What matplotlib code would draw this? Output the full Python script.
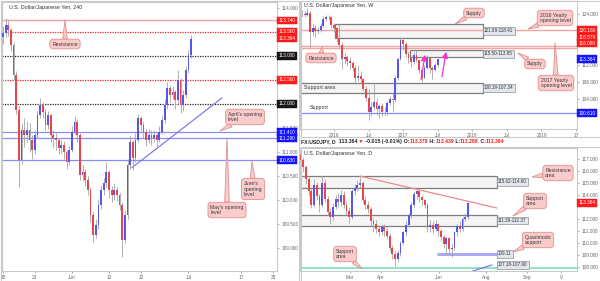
import numpy as np
import matplotlib.pyplot as plt
from matplotlib.patches import Rectangle

plt.rcParams['font.family'] = ['Liberation Sans', 'DejaVu Sans']

W, H = 600, 281
BULL = '#5656ee'
BEAR = '#e8464b'
WICK = '#a3a3a3'
RED = '#ff1a1a'
BLUE = '#1414ff'
BLACK = '#151515'
PINK = '#f9cbcb'
PINK_EDGE = '#e38e8e'
GRID = '#c9c9c9'

# ---- 240 chart: two bars per trading day, 15 May -> 3 Jul
h4_open0 = 113.40
h4_close = [113.48, 113.65, 113.54, 113.23, 112.60, 111.88, 110.83, 111.46, 111.35, 111.46,
            111.25, 111.04, 111.35, 111.77, 111.98, 111.83, 111.56, 111.77, 111.35, 111.29,
            111.25, 111.08, 111.15, 111.00, 110.79, 111.04, 111.42, 111.63, 111.35, 110.52,
            110.58, 110.42, 110.21, 109.69, 109.27, 109.48, 109.90, 110.21, 110.35, 110.58,
            110.21, 110.10, 110.21, 110.10, 109.90, 109.17, 109.69, 110.73, 111.21, 110.88,
            111.25, 111.71, 111.56, 111.42, 111.25, 111.35, 111.29, 111.35, 111.25, 111.42,
            111.67, 111.98, 112.33, 112.19, 112.25, 112.08, 112.50, 111.98, 112.19, 112.71,
            113.02, 113.36]
h4_high = [113.62, 113.80, 113.74, 113.60, 113.30, 112.68, 111.95, 111.60, 111.70, 111.65,
           111.60, 111.35, 111.45, 111.85, 112.12, 112.05, 111.90, 111.85, 111.80, 111.45,
           111.40, 111.30, 111.25, 111.22, 111.05, 111.12, 111.55, 111.75, 111.68, 111.40,
           110.72, 110.65, 110.50, 110.28, 109.75, 109.60, 110.02, 110.32, 110.45, 110.80,
           110.62, 110.30, 110.35, 110.28, 110.15, 109.95, 109.80, 110.85, 111.35, 111.25,
           111.40, 111.80, 111.75, 111.62, 111.48, 111.48, 111.45, 111.46, 111.40, 111.55,
           111.78, 112.10, 112.45, 112.40, 112.38, 112.30, 112.70, 112.55, 112.30, 112.80,
           113.12, 113.44]
h4_low = [113.25, 113.40, 113.42, 113.10, 112.50, 111.80, 110.27, 110.75, 111.10, 111.20,
          111.00, 110.85, 110.95, 111.30, 111.70, 111.70, 111.45, 111.48, 111.20, 111.10,
          111.05, 110.95, 110.98, 110.85, 110.65, 110.72, 111.00, 111.38, 111.20, 110.42,
          110.40, 110.30, 110.10, 109.55, 109.12, 109.20, 109.40, 109.82, 110.10, 110.28,
          110.05, 109.95, 110.00, 109.98, 109.80, 108.82, 109.10, 109.60, 110.65, 110.62,
          110.80, 111.20, 111.40, 111.30, 111.12, 111.18, 111.15, 111.20, 111.12, 111.20,
          111.38, 111.60, 111.90, 112.05, 112.10, 111.90, 112.00, 111.82, 111.85, 112.12,
          112.65, 112.95]
h4_tick_days = [0, 6, 13, 20, 26, 35, 45, 51]
h4_tick_labels = ['15', '23', 'Jun', '12', '20', 'Jul', '17', '25']
h4_price_ticks = [109.0, 109.5, 110.0, 110.5, 111.0, 111.5, 114.0]
h4_resistance = 113.740
h4_red_dotted = [113.5, 112.5]
h4_black_dotted = [113.0, 112.0]
h4_blue_levels = [111.41, 111.29, 110.83]
h4_trend_x = [24.3, 41.3]
h4_trend_y = [110.67, 112.125]
h4_tags = [(113.740, RED), (113.500, RED), (113.364, RED), (113.000, BLACK),
           (112.500, RED), (112.000, BLACK), (111.410, BLUE), (111.290, BLUE), (110.830, BLUE)]

# ---- weekly chart: one bar per two weeks, mid 2015 -> Jul 2017
w_open0 = 123.6
w_close = [123.9, 124.1, 123.8, 124.3, 119.8, 120.6, 119.9, 120.3, 121.2, 122.8,
           123.3, 123.4, 121.4, 120.6, 118.3, 116.8, 113.3, 113.9, 112.9, 112.5,
           111.3, 108.9, 109.5, 108.6, 106.4, 104.2, 100.9, 102.0, 103.2, 101.6,
           102.4, 101.0, 100.9, 103.1, 104.1, 103.8, 108.9, 113.4, 117.9, 117.0,
           114.7, 113.6, 112.8, 114.3, 113.2, 110.8, 109.0, 111.4, 113.6, 111.3,
           110.9, 112.0, 113.36]
w_high = [124.6, 125.0, 124.6, 125.3, 124.6, 121.7, 121.3, 121.0, 121.8, 123.5,
          123.8, 123.7, 123.6, 122.0, 121.0, 121.7, 117.5, 114.9, 114.4, 113.8,
          112.9, 111.9, 111.9, 110.6, 109.0, 107.1, 106.3, 103.2, 107.5, 104.3,
          102.9, 103.1, 102.0, 103.6, 104.7, 105.5, 109.3, 113.9, 118.6, 118.2,
          117.5, 115.4, 114.2, 115.0, 115.5, 113.5, 111.5, 111.9, 114.4, 113.8,
          111.8, 112.4, 113.5]
w_low = [123.0, 123.3, 123.2, 123.5, 116.2, 118.8, 118.6, 119.2, 119.8, 120.9,
         122.3, 122.6, 120.7, 119.8, 117.3, 115.9, 111.0, 112.2, 111.7, 111.0,
         110.6, 107.6, 108.2, 107.7, 105.8, 103.5, 99.0, 99.9, 101.4, 100.2,
         99.6, 100.1, 100.0, 100.3, 102.6, 101.2, 103.2, 108.5, 113.1, 115.6,
         113.8, 112.5, 111.6, 112.2, 112.7, 110.1, 108.1, 108.9, 111.0, 110.2,
         108.8, 110.6, 111.6]
w_tick_pos = [0, 13, 26, 39, 52, 65, 78, 91]
w_tick_labels = ['2016', 'Jul', '2017', 'Jul', '2018', 'Jul', '2019', '17']
w_price_ticks = [104, 108, 112, 124]
w_zones = [(0.4, 56, 118.41, 121.68, '121.68-118.41'),
           (28.6, 56, 113.85, 115.50, '115.50-113.85'),
           (-13, 56, 105.5, 107.8, '108.19-107.34')]
w_red_levels = [120.18, 116.579, 116.08]
w_support = 100.61
w_tags = [(120.18, '120.180', RED), (118.4, '116.579', RED), (117.1, '116.080', RED),
          (113.364, '113.364', BLUE), (100.61, '100.610', BLUE)]
w_arrows = [((32.7, 108.5), (34.2, 114.4)), ((40.6, 109.2), (42.1, 115.1))]

# ---- daily chart: one bar per two days, Jan -> 3 Jul 2017
d_open0 = 117.3
d_close = [116.9, 116.3, 115.3, 114.3, 113.2, 114.8, 113.9, 113.2, 115.0, 113.7,
           112.6, 112.2, 113.0, 113.7, 113.4, 114.0, 113.2, 112.7, 112.2, 114.3,
           114.6, 114.8, 115.0, 113.6, 113.2, 112.8, 111.8, 111.6, 111.2, 110.9,
           111.3, 111.0, 110.6, 109.6, 109.1, 108.7, 109.2, 110.0, 110.9, 111.5,
           112.3, 113.2, 114.1, 114.3, 113.8, 113.6, 113.2, 111.3, 111.5, 111.2,
           111.6, 111.0, 110.5, 109.9, 110.4, 109.5, 109.6, 110.9, 111.4, 111.2,
           112.0, 112.2, 113.36]
d_high = [117.6, 117.2, 116.5, 115.6, 114.6, 115.3, 115.1, 114.1, 115.6, 115.3,
          113.9, 112.9, 113.3, 114.0, 114.2, 114.4, 114.3, 113.5, 113.0, 114.5,
          114.9, 115.2, 115.5, 115.2, 113.9, 113.5, 113.0, 112.1, 111.9, 111.5,
          111.6, 111.6, 111.3, 110.8, 109.8, 109.3, 109.4, 110.2, 111.0, 111.8,
          112.5, 113.4, 114.3, 114.4, 114.4, 114.0, 113.7, 113.3, 111.9, 111.8,
          111.9, 111.7, 111.2, 110.7, 110.6, 110.5, 109.9, 111.0, 111.6, 111.8,
          112.2, 112.5, 113.45]
d_low = [116.5, 115.9, 114.9, 113.9, 112.9, 113.0, 113.6, 112.6, 113.0, 113.4,
         112.3, 111.6, 111.9, 112.8, 113.0, 113.1, 112.9, 112.4, 111.7, 112.0,
         114.0, 114.3, 114.6, 113.3, 112.8, 112.5, 111.4, 110.9, 110.8, 110.6,
         110.7, 110.6, 110.3, 109.3, 108.7, 108.1, 108.4, 108.9, 109.8, 110.6,
         111.3, 112.1, 113.0, 113.7, 113.4, 113.2, 112.9, 110.9, 110.9, 110.8,
         111.0, 110.6, 110.2, 109.6, 109.1, 109.2, 108.8, 109.4, 110.6, 110.9,
         111.0, 111.8, 112.0]
d_tick_pos = [18.3, 29.8, 51.3, 68.7, 83.9, 96.4]
d_tick_labels = ['Mar', 'Apr', 'Jun', 'Aug', 'Sep', '9']
d_price_ticks = [108, 109, 110, 111, 112, 114, 115, 116, 117]
d_zones = [(-0.5, 72.7, 114.60, 115.62, '115.62-114.60'),
           (-0.5, 72.7, 111.39, 112.37, '111.39-112.37')]
d_trend_x = [22, 72.7]
d_trend_y = [115.58, 112.92]
d_qm_x = [50.5, 72.7]
d_qm = 109.11
d_support = 107.94
d_ray_x = [63.8, 70.9]
d_ray_y = [107.67, 108.17]


def rect(x0, y0, x1, y1):
    return [x0 / W, 1 - y1 / H, (x1 - x0) / W, (y1 - y0) / H]


def candles(ax, x, open0, close, high, low, width):
    opens = [open0] + close[:-1]
    cols = [BULL if c >= o else BEAR for o, c in zip(opens, close)]
    ax.vlines(x, low, high, color=WICK, lw=0.6, zorder=3)
    ax.bar(x, [abs(c - o) for o, c in zip(opens, close)], bottom=[min(o, c) for o, c in zip(opens, close)],
           width=width, color=cols, linewidth=0, zorder=4)


def style(ax, xlim, ylim, yticks, xticks, xlabels):
    ax.set_xlim(*xlim)
    ax.set_ylim(*ylim)
    ax.yaxis.tick_right()
    ax.set_yticks(yticks)
    ax.set_yticklabels(['%.3f' % v for v in yticks])
    ax.set_xticks(xticks)
    ax.set_xticklabels(xlabels)
    ax.tick_params(labelsize=3.4, colors='#666666', length=1.5, width=0.4, pad=1.5)
    for s in ax.spines.values():
        s.set_color(GRID)
        s.set_linewidth(0.8)


def tag(ax, y, text, fc):
    ax.text(1.006, y, text, transform=ax.get_yaxis_transform(), fontsize=3.4, color='white',
            va='center', ha='left', zorder=10, clip_on=False,
            bbox=dict(boxstyle='square,pad=0.3', fc=fc, ec=fc, lw=0.3))


def callout(ax, text, tip, center, fs=3.7):
    ax.annotate(text, xy=(tip[0], H - tip[1]), xycoords='figure pixels',
                xytext=(center[0], H - center[1]), textcoords='figure pixels',
                ha='center', va='center', multialignment='left', fontsize=fs, color='#3a3a3a',
                annotation_clip=False, zorder=12,
                bbox=dict(boxstyle='round,pad=0.45,rounding_size=0.6', fc=PINK, ec=PINK_EDGE, lw=0.6),
                arrowprops=dict(arrowstyle='wedge,tail_width=0.9,shrink_factor=0.5',
                                fc=PINK, ec=PINK_EDGE, lw=0.6, shrinkA=0, shrinkB=0))


def zone(ax, x0, x1, y0, y1, label, lx):
    ax.add_patch(Rectangle((x0, y0), x1 - x0, y1 - y0, fc=(0.85, 0.85, 0.85, 0.25),
                           ec='#7d7d7d', lw=0.9, zorder=2))
    ax.text(lx, (y0 + y1) / 2, label, fontsize=3.3, color='#333333', va='center', ha='left', zorder=9,
            bbox=dict(boxstyle='square,pad=0.3', fc='#e2e7ee', ec='#8f8f8f', lw=0.5))


fig = plt.figure(figsize=(6, 2.81), dpi=100)

# panel frames
for x0, y0, x1, y1 in [(0.5, 0.5, 298.5, 280.5), (300.5, 0.5, 599.5, 136.5), (300.5, 147, 599.5, 280.5)]:
    fig.add_artist(Rectangle((x0 / W, 1 - y1 / H), (x1 - x0) / W, (y1 - y0) / H,
                             transform=fig.transFigure, fill=False, ec=GRID, lw=0.8))

# ---------------- left: 240
ax1 = fig.add_axes(rect(2, 2, 277, 271))
style(ax1, (-0.19, 51.7), (108.52, 114.125), h4_price_ticks, h4_tick_days, h4_tick_labels)
x1 = np.arange(len(h4_close)) * 0.5
ax1.axhline(h4_resistance, color='#f4a3a3', lw=1.0, zorder=2)
for v in h4_red_dotted:
    ax1.axhline(v, color='#ff2020', lw=0.9, ls=(0, (1, 1)), zorder=2)
for v in h4_black_dotted:
    ax1.axhline(v, color='#222222', lw=0.9, ls=(0, (1, 1)), zorder=2)
for v in h4_blue_levels:
    ax1.axhline(v, color='#8a8aff', lw=0.9, zorder=2)
ax1.plot(h4_trend_x, h4_trend_y, color='#6f6ff5', lw=0.8, zorder=2)
candles(ax1, x1, h4_open0, h4_close, h4_high, h4_low, 0.33)
for v, c in h4_tags:
    tag(ax1, v, '%.3f' % v, c)
ax1.text(7 / 275, 1 - 6 / 269, 'U.S. Dollar/Japanese Yen, 240', transform=ax1.transAxes,
         fontsize=3.9, color='#333333', va='center', ha='left')
callout(ax1, 'Resistance', (65, 20), (65, 44))
callout(ax1, "April's opening\nlevel", (220, 131), (245, 117))
callout(ax1, "June's\nopening\nlevel", (252, 161), (253, 189))
callout(ax1, "May's opening\nlevel", (227, 138), (227, 210))

# ---------------- top right: weekly
ax2 = fig.add_axes(rect(300, 1, 577, 129))
style(ax2, (-12.78, 91.35), (96.94, 127.06), w_price_ticks, w_tick_pos, w_tick_labels)
for x0, x1z, y0, y1, lab in w_zones:
    zone(ax2, x0, x1z, y0, y1, lab, 56.4)
for v in w_red_levels:
    ax2.axhline(v, color='#f4a3a3', lw=1.0, zorder=2)
ax2.axhline(w_support, color='#8a8aff', lw=0.9, zorder=2)
candles(ax2, np.arange(-13, -13 + len(w_close)), w_open0, w_close, w_high, w_low, 0.7)
for v, s, c in w_tags:
    tag(ax2, v, s, c)
for a, b in w_arrows:
    ax2.annotate('', xy=b, xytext=a, zorder=8,
                 arrowprops=dict(arrowstyle='-|>,head_length=0.35,head_width=0.18',
                                 color='#ff33cc', lw=0.9, shrinkA=0, shrinkB=0))
ax2.text(4 / 277, 1 - 5 / 128, 'U.S. Dollar/Japanese Yen, W', transform=ax2.transAxes,
         fontsize=3.9, color='#333333', va='center', ha='left')
ax2.text(-11.2, 106.65, 'Support area', fontsize=3.9, color='#333333', va='center', ha='left', zorder=9)
ax2.text(-9.2, 101.9, 'Support', fontsize=3.9, color='#333333', va='center', ha='left', zorder=9)
callout(ax2, 'Supply', (455, 24), (474, 13))
callout(ax2, '2016 Yearly\nopening level', (528, 29), (555, 18))
callout(ax2, 'Resistance', (322, 47), (321, 58))
callout(ax2, 'Supply', (518, 53), (535, 64))
callout(ax2, '2017 Yearly\nopening level', (555, 43), (556, 83))

# ---------------- info line
info = [('FX:USDJPY, D', '#222222'), ('  113.364', '#222222'), (' \u25bc', RED),
        (' -0.015 (-0.01%)', '#222222'), ('  O:', '#222222'), ('113.379', RED),
        (' H:', '#222222'), ('113.439', RED), (' L:', '#222222'), ('113.288', RED),
        (' C:', '#222222'), ('113.364', RED)]
r = fig.canvas.get_renderer()
xpos = 301 / W
for s, c in info:
    t = fig.text(xpos, 1 - 141.5 / H, s, color=c, fontsize=3.7, va='center', ha='left', weight='bold')
    xpos = t.get_window_extent(r).x1 / W

# ---------------- bottom right: daily
ax3 = fig.add_axes(rect(300, 148, 577, 271))
style(ax3, (-0.22, 102.4), (107.67, 117.92), d_price_ticks, d_tick_pos, d_tick_labels)
for x0, x1z, y0, y1, lab in d_zones:
    zone(ax3, x0, x1z, y0, y1, lab, 73.1)
ax3.plot(d_trend_x, d_trend_y, color='#f08a8a', lw=0.9, zorder=2)
ax3.plot(d_qm_x, [d_qm, d_qm], color='#aaaaf2', lw=2.2, zorder=2, solid_capstyle='butt')
ax3.text(73.1, d_qm, '%.2f' % d_qm, fontsize=3.3, color='#333333', va='center', ha='left', zorder=9,
         bbox=dict(boxstyle='square,pad=0.3', fc='#e2e7ee', ec='#8f8f8f', lw=0.5))
ax3.axhline(d_support, color='#7fdcc4', lw=1.2, zorder=2)
ax3.text(73.1, 108.2, '107.18-107.90', fontsize=3.3, color='#333333', va='center', ha='left', zorder=9,
         bbox=dict(boxstyle='square,pad=0.3', fc='#e2e7ee', ec='#8f8f8f', lw=0.5))
ax3.plot(d_ray_x, d_ray_y, color='#6f6ff5', lw=0.8, zorder=2)
candles(ax3, np.arange(len(d_close)), d_open0, d_close, d_high, d_low, 0.7)
tag(ax3, 113.364, '113.364', RED)
ax3.text(4 / 277, 1 - 6 / 123, 'U.S. Dollar/Japanese Yen, D', transform=ax3.transAxes,
         fontsize=3.9, color='#333333', va='center', ha='left')
callout(ax3, 'Resistance\narea', (532, 177), (558, 173))
callout(ax3, 'Support\narea', (513, 216), (535, 201))
callout(ax3, 'Quasimodo\nsupport', (513, 252), (538, 240))
callout(ax3, 'Support\narea', (362, 269), (345, 254))

fig.savefig('out.png', dpi=100)
